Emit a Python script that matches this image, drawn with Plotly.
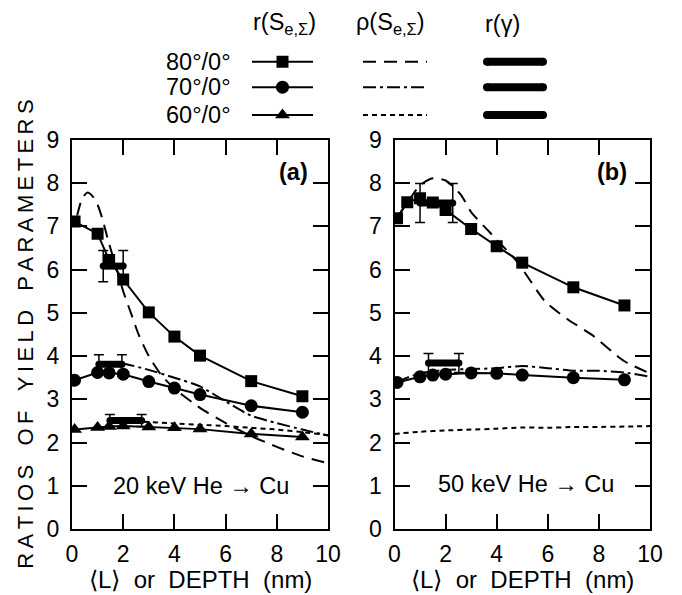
import plotly.graph_objects as go

FONT = "Liberation Sans, Arial, sans-serif"

# ---------------- Panel (a): 20 keV He -> Cu ----------------
a_x = [0.1, 1.0, 1.45, 2.0, 3.0, 4.0, 5.0, 7.0, 9.0]
a_r80 = [7.11, 6.83, 6.22, 5.77, 5.01, 4.45, 4.01, 3.42, 3.07]
a_r70 = [3.44, 3.62, 3.61, 3.58, 3.41, 3.26, 3.11, 2.85, 2.70]
a_r60 = [2.30, 2.35, 2.37, 2.38, 2.36, 2.34, 2.31, 2.20, 2.13]

a_rho80_x = [0.2, 0.4, 0.6, 0.8, 1.0, 1.2, 1.4, 1.7, 2.0, 2.3, 2.6, 3.0, 3.5, 4.0, 5.0, 6.0, 7.0, 8.0, 9.0, 10.0]
a_rho80 = [7.25, 7.65, 7.78, 7.70, 7.50, 7.15, 6.70, 6.10, 5.50, 5.00, 4.50, 4.00, 3.55, 3.25, 2.80, 2.45, 2.15, 1.90, 1.68, 1.52]
a_rho70_x = [1.0, 2.0, 3.0, 4.0, 5.0, 6.0, 7.0, 8.0, 9.0, 10.0]
a_rho70 = [3.82, 3.82, 3.68, 3.50, 3.30, 2.95, 2.62, 2.45, 2.30, 2.16]
a_rho60_x = [2.8, 4.0, 5.0, 6.0, 7.0, 8.0, 9.0, 10.0]
a_rho60 = [2.48, 2.44, 2.41, 2.38, 2.34, 2.30, 2.24, 2.17]

a_g80_x = [1.22, 2.0]; a_g80 = 6.08; a_g80_err = 0.36
a_g70_x = [1.05, 1.95]; a_g70 = 3.81; a_g70_err = 0.22
a_g60_x = [1.48, 2.72]; a_g60 = 2.51; a_g60_err = 0.14

# ---------------- Panel (b): 50 keV He -> Cu ----------------
b_x80 = [0.1, 0.5, 1.0, 1.5, 2.0, 3.0, 4.0, 5.0, 7.0, 9.0]
b_r80 = [7.19, 7.56, 7.65, 7.55, 7.38, 6.94, 6.54, 6.16, 5.59, 5.17]
b_x70 = [0.1, 1.0, 1.5, 2.0, 3.0, 4.0, 5.0, 7.0, 9.0]
b_r70 = [3.39, 3.52, 3.56, 3.58, 3.61, 3.60, 3.56, 3.50, 3.45]

b_rho80_x = [0.1, 0.5, 1.0, 1.5, 2.0, 2.6, 3.0, 3.7, 4.8, 5.9, 6.8, 7.7, 9.0, 10.0]
b_rho80 = [7.20, 7.55, 7.95, 8.11, 8.06, 7.73, 7.33, 6.88, 6.18, 5.26, 4.84, 4.50, 3.88, 3.60]
b_rho70_x = [0.1, 0.5, 1.0, 2.0, 3.0, 4.0, 5.0, 6.0, 7.0, 8.0, 9.0, 10.0]
b_rho70 = [3.40, 3.50, 3.60, 3.68, 3.70, 3.72, 3.77, 3.72, 3.66, 3.66, 3.62, 3.52]
b_rho60_x = [0, 1, 2, 3, 4, 5, 6, 7, 8, 9, 10]
b_rho60 = [2.20, 2.25, 2.28, 2.30, 2.32, 2.35, 2.34, 2.36, 2.36, 2.37, 2.38]

b_g80_x = [1.0, 2.28]; b_g80 = 7.54; b_g80_err = 0.45
b_g70_x = [1.33, 2.52]; b_g70 = 3.84; b_g70_err = 0.22

x_ticks = [0, 2, 4, 6, 8, 10]
y_ticks = [0, 1, 2, 3, 4, 5, 6, 7, 8, 9]

# styles
DASH = "13px,8px"
DASHDOT = "13px,4px,3px,4px"
DOT = "5px,4px"
MSIZE = {"square": 12, "circle": 13, "triangle-up": 13}
TXT = 23.5

fig = go.Figure()


def solid(x, y, sym, xa, ya):
    fig.add_trace(go.Scatter(x=x, y=y, mode="lines+markers", xaxis=xa, yaxis=ya,
                             line=dict(color="black", width=2),
                             marker=dict(symbol=sym, size=MSIZE[sym], color="black"),
                             showlegend=False, hoverinfo="skip"))


def curve(x, y, dash, xa, ya):
    fig.add_trace(go.Scatter(x=x, y=y, mode="lines", xaxis=xa, yaxis=ya,
                             line=dict(color="black", width=2, dash=dash, shape="spline", smoothing=0.6),
                             showlegend=False, hoverinfo="skip"))


def gamma(xr, v, err, xa, ya):
    fig.add_trace(go.Scatter(x=xr, y=[v, v], mode="lines+markers", xaxis=xa, yaxis=ya,
                             line=dict(color="black", width=7),
                             marker=dict(symbol="circle", size=7, color="black"),
                             error_y=dict(type="constant", value=err, color="black", thickness=1.5, width=5),
                             showlegend=False, hoverinfo="skip"))


# panel a
curve(a_rho80_x, a_rho80, DASH, "x", "y")
curve(a_rho70_x, a_rho70, DASHDOT, "x", "y")
curve(a_rho60_x, a_rho60, DOT, "x", "y")
gamma(a_g80_x, a_g80, a_g80_err, "x", "y")
gamma(a_g70_x, a_g70, a_g70_err, "x", "y")
gamma(a_g60_x, a_g60, a_g60_err, "x", "y")
solid(a_x, a_r80, "square", "x", "y")
solid(a_x, a_r70, "circle", "x", "y")
solid(a_x, a_r60, "triangle-up", "x", "y")

# panel b
curve(b_rho80_x, b_rho80, DASH, "x2", "y2")
curve(b_rho70_x, b_rho70, DASHDOT, "x2", "y2")
curve(b_rho60_x, b_rho60, DOT, "x2", "y2")
gamma(b_g80_x, b_g80, b_g80_err, "x2", "y2")
gamma(b_g70_x, b_g70, b_g70_err, "x2", "y2")
solid(b_x80, b_r80, "square", "x2", "y2")
solid(b_x70, b_r70, "circle", "x2", "y2")

# ---------------- custom legend (layout axis in screen pixels) ----------------
leg_rows = {"80°/0°": 61.7, "70°/0°": 87.3, "60°/0°": 115.0}
leg_syms = ["square", "circle", "triangle-up"]
leg_dashes = [DASH, DASHDOT, DOT]
for (lab, yy), sym, dsh in zip(leg_rows.items(), leg_syms, leg_dashes):
    fig.add_trace(go.Scatter(x=[252, 313], y=[yy, yy], mode="lines", xaxis="x3", yaxis="y3",
                             line=dict(color="black", width=2), showlegend=False, hoverinfo="skip"))
    fig.add_trace(go.Scatter(x=[282.5], y=[yy], mode="markers", xaxis="x3", yaxis="y3",
                             marker=dict(symbol=sym, size=MSIZE[sym], color="black"),
                             showlegend=False, hoverinfo="skip"))
    fig.add_trace(go.Scatter(x=[363, 427], y=[yy, yy], mode="lines", xaxis="x3", yaxis="y3",
                             line=dict(color="black", width=2, dash=dsh), showlegend=False, hoverinfo="skip"))
    fig.add_trace(go.Scatter(x=[487, 543], y=[yy, yy], mode="lines+markers", xaxis="x3", yaxis="y3",
                             line=dict(color="black", width=8),
                             marker=dict(symbol="circle", size=8, color="black"),
                             showlegend=False, hoverinfo="skip"))

annotations = []
for lab, yy in leg_rows.items():
    annotations.append(dict(x=233, y=yy, xref="x3", yref="y3", text=lab, showarrow=False,
                            xanchor="right", yanchor="middle", font=dict(size=TXT)))
for txt, xx in [("r(S<sub>e,Σ</sub>)", 284), ("ρ(S<sub>e,Σ</sub>)", 390), ("r(γ)", 502)]:
    annotations.append(dict(x=xx, y=24, xref="x3", yref="y3", text=txt, showarrow=False,
                            xanchor="center", yanchor="middle", font=dict(size=TXT)))

# panel labels
annotations += [
    dict(x=8.67, y=8.25, xref="x", yref="y", text="<b>(a)</b>", showarrow=False, font=dict(size=TXT)),
    dict(x=8.51, y=8.25, xref="x2", yref="y2", text="<b>(b)</b>", showarrow=False, font=dict(size=TXT)),
    dict(x=5.04, y=0.99, xref="x", yref="y", text="20 keV He → Cu", showarrow=False, font=dict(size=TXT)),
    dict(x=5.13, y=1.03, xref="x2", yref="y2", text="50 keV He → Cu", showarrow=False, font=dict(size=TXT)),
]

# page offset compensation: the browser page adds an 8 px body margin
OFF = 8
W, H = 682 - OFF, 595 - OFF
M_L, M_R, M_T, M_B = 72 - OFF, 32, 0, 65.5
PLOT_H = H - M_T - M_B
PANEL_TOP = (PLOT_H - (140 - OFF)) / PLOT_H

# axis titles
xt = "  ".join(["⟨L⟩", "or", "DEPTH", "(nm)"])
xt_y = -(580 - 529.5) / PLOT_H
annotations += [
    dict(x=5, y=xt_y, xref="x", yref="paper", text=xt, showarrow=False, yanchor="middle",
         font=dict(size=24)),
    dict(x=5, y=xt_y, xref="x2", yref="paper", text=xt, showarrow=False, yanchor="middle",
         font=dict(size=24)),
]
thin = "\u2009"
words = ["RATIOS", "OF", "YIELD", "PARAMETERS"]
ytitle = (" " + thin * 3).join(thin.join(w) for w in words)
annotations.append(dict(x=(26 - 72) / 578, y=(529.5 - 335) / PLOT_H, xref="paper", yref="paper",
                        text=ytitle, textangle=-90,
                        showarrow=False, xanchor="center", yanchor="middle", font=dict(size=22)))

axis_common = dict(showline=True, linecolor="black", linewidth=2, mirror="allticks",
                   ticks="inside", ticklen=15, tickwidth=2, tickcolor="black",
                   showgrid=False, zeroline=False, tickfont=dict(size=23, color="black"))

fig.update_layout(
    width=W, height=H,
    margin=dict(l=M_L, r=M_R, t=M_T, b=M_B, pad=0, autoexpand=False),
    paper_bgcolor="white", plot_bgcolor="white",
    font=dict(family=FONT, color="black", size=22),
    xaxis=dict(domain=[0, 256 / 578], range=[0, 10], tickvals=x_ticks, anchor="y",
               ticklabelstandoff=3, **axis_common),
    yaxis=dict(domain=[0, PANEL_TOP], range=[0, 9], tickvals=y_ticks, anchor="x",
               ticklabelstandoff=6, **axis_common),
    xaxis2=dict(domain=[322.5 / 578, 1], range=[0, 10], tickvals=x_ticks, anchor="y2",
                ticklabelstandoff=3, **axis_common),
    yaxis2=dict(domain=[0, PANEL_TOP], range=[0, 9], tickvals=y_ticks, anchor="x2",
                ticklabelstandoff=6, **axis_common),
    xaxis3=dict(domain=[0, 1], range=[72, 650], visible=False, anchor="y3"),
    yaxis3=dict(domain=[PANEL_TOP, 1], range=[140, OFF], visible=False, anchor="x3"),
    annotations=annotations,
)

fig.write_html("out.html")
